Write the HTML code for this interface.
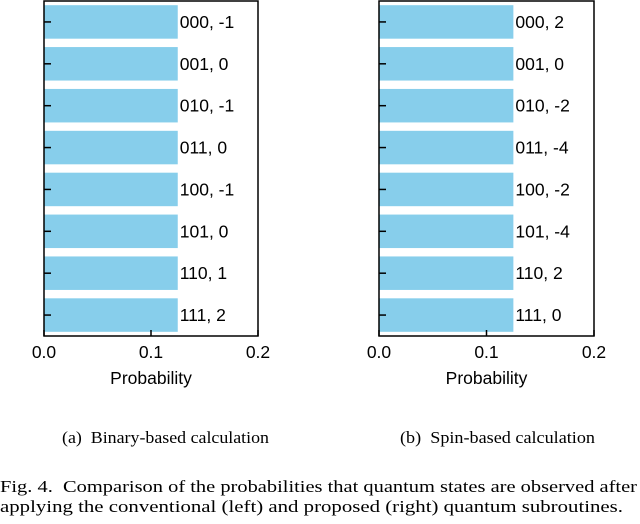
<!DOCTYPE html>
<html><head><meta charset="utf-8"><style>
body{margin:0;background:#fff;width:640px;height:519px;overflow:hidden}
svg text{font-family:"Liberation Sans",sans-serif}
.cap{font-family:"Liberation Serif",serif;white-space:pre}
</style></head><body>
<svg id="s" width="640" height="519">
<text class="cap" x="62" y="443" font-size="17" textLength="207" lengthAdjust="spacingAndGlyphs">(a)  Binary-based calculation</text>
<text class="cap" x="400" y="443" font-size="17" textLength="195" lengthAdjust="spacingAndGlyphs">(b)  Spin-based calculation</text>
<text class="cap" x="0" y="492" font-size="17" textLength="637" lengthAdjust="spacingAndGlyphs">Fig. 4.  Comparison of the probabilities that quantum states are observed after</text>
<text class="cap" x="0" y="512" font-size="17" textLength="623" lengthAdjust="spacingAndGlyphs">applying the conventional (left) and proposed (right) quantum subroutines.</text>
</svg>
<script>
const states=["000","001","010","011","100","101","110","111"];
const probsA=[0.125,0.125,0.125,0.125,0.125,0.125,0.125,0.125];
const valsA=["-1","0","-1","0","-1","0","1","2"];
const probsB=[0.125,0.125,0.125,0.125,0.125,0.125,0.125,0.125];
const valsB=["2","0","-2","-4","-2","-4","2","0"];
const xTicks=[0.0,0.1,0.2];
const NS="http://www.w3.org/2000/svg";
const svg=document.getElementById('s');
function mk(t,a,p){const e=document.createElementNS(NS,t);for(const k in a)e.setAttribute(k,a[k]);(p||svg).appendChild(e);return e;}
function chart(x0,x1,probs,vals,id){
  const y0=1,y1=336,xmax=0.2;
  const g=mk('g',{});
  
  
  const X=v=>x0+v/xmax*(x1-x0);
  const band=(y1-y0)/states.length;
  const Y=i=>y0+band*i;
  states.forEach((s,i)=>{
    const r=mk('rect',{x:X(0),y:Y(i)+band*0.1,width:X(probs[i])-X(0),height:band*0.8,fill:'#87ceeb'},g);
    
    
    const t=mk('text',{x:X(probs[i])+2,y:Y(i)+band/2+6,'font-size':17.5},g);
    t.textContent=s+', '+vals[i];
    
    
    mk('line',{x1:X(0),x2:X(0)+7,y1:Y(i)+band/2,y2:Y(i)+band/2,stroke:'#000','stroke-width':1.5},g);
  });
  const f=mk('rect',{x:x0,y:y0,width:x1-x0,height:y1-y0,fill:'none',stroke:'#000','stroke-width':1.5},g);
  
  
  xTicks.forEach(v=>{
    mk('line',{x1:X(v),x2:X(v),y1:y1,y2:y1-6,stroke:'#000','stroke-width':1.5},g);
    const t=mk('text',{x:X(v),y:y1+22,'font-size':17.5,'text-anchor':'middle'},g);
    t.textContent=v.toFixed(1);
    
    
  });
  const t=mk('text',{x:(x0+x1)/2,y:384,'font-size':17.5,'text-anchor':'middle'},g);
  t.textContent='Probability';
  
  
}
chart(44,258,probsA,valsA,'binary-chart');
chart(379,594,probsB,valsB,'spin-chart');
</script>
</body></html>
